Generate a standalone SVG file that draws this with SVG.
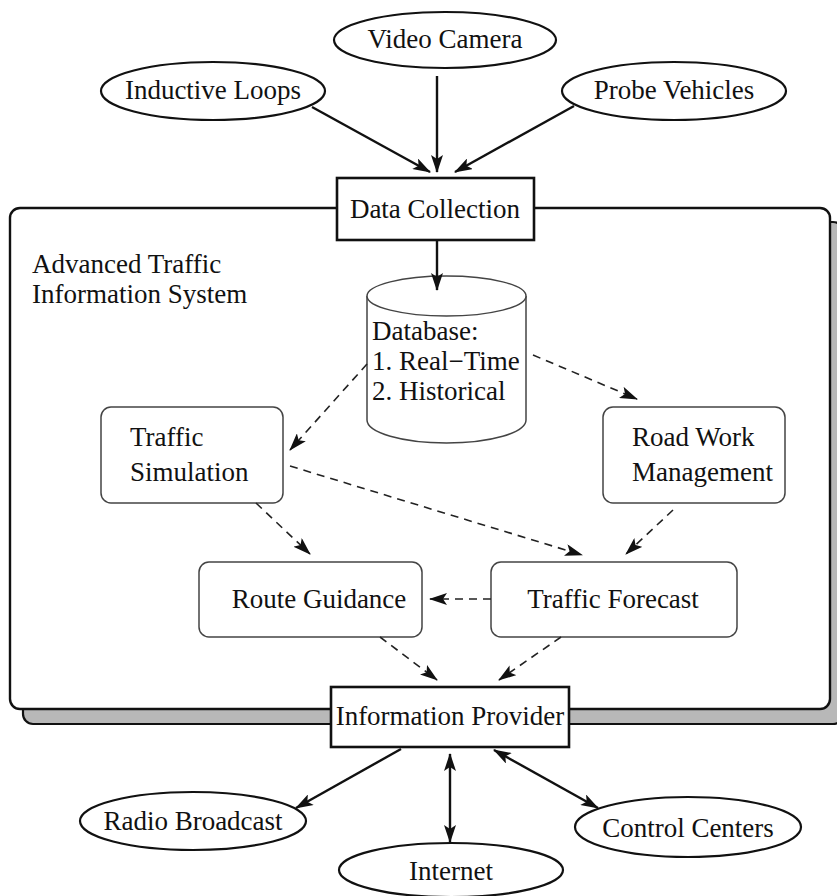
<svg xmlns="http://www.w3.org/2000/svg" width="837" height="896" viewBox="0 0 837 896">
<style>
text{font-family:"Liberation Serif","Times New Roman",serif;font-size:27px;fill:#111}
.ell{fill:#fff;stroke:#111;stroke-width:2.2}
.box{fill:#fff;stroke:#111;stroke-width:2.6}
.rbox{fill:#fff;stroke:#444;stroke-width:1.5}
.solid{stroke:#111;stroke-width:2.4;fill:none}
.dash{stroke:#222;stroke-width:1.6;fill:none;stroke-dasharray:8,6}
</style>
<defs>
<marker id="ah" markerUnits="userSpaceOnUse" markerWidth="18" markerHeight="12" refX="17" refY="6" orient="auto-start-reverse">
<path d="M0,0 L18,6 L0,12 L4,6 z" fill="#111"/>
</marker>
</defs>
<g id="system">
<rect x="23" y="222" width="820" height="502" rx="10" fill="#b8b8b8" stroke="#111" stroke-width="2.2"/>
<rect x="10" y="208" width="820" height="501" rx="10" fill="#fff" stroke="#111" stroke-width="2.4"/>
<text x="32" y="273">Advanced Traffic</text>
<text x="32" y="303">Information System</text>
</g>
<g id="video-camera">
<ellipse class="ell" cx="445" cy="40" rx="111" ry="28"/>
<text x="445" y="48" text-anchor="middle">Video Camera</text>
</g>
<g id="inductive-loops">
<ellipse class="ell" cx="213" cy="91" rx="112" ry="29"/>
<text x="213" y="99" text-anchor="middle">Inductive Loops</text>
</g>
<g id="probe-vehicles">
<ellipse class="ell" cx="674" cy="91" rx="112" ry="29"/>
<text x="674" y="99" text-anchor="middle">Probe Vehicles</text>
</g>
<g id="data-collection">
<rect class="box" x="337" y="178" width="197" height="62"/>
<text x="435" y="218" text-anchor="middle">Data Collection</text>
</g>
<g id="database">
<path d="M367,296 L367,420 A79.5,23 0 0 0 526,420 L526,296" fill="#fff" stroke="#444" stroke-width="1.5"/>
<ellipse cx="446.5" cy="296" rx="79.5" ry="20" fill="#fff" stroke="#444" stroke-width="1.5"/>
<text x="372" y="340">Database:</text>
<text x="372" y="370">1. Real−Time</text>
<text x="372" y="400">2. Historical</text>
</g>
<g id="traffic-simulation">
<rect class="rbox" x="101" y="407" width="182" height="96" rx="10"/>
<text x="130" y="446">Traffic</text>
<text x="130" y="481">Simulation</text>
</g>
<g id="road-work-management">
<rect class="rbox" x="603" y="407" width="182" height="96" rx="10"/>
<text x="632" y="446">Road Work</text>
<text x="632" y="481">Management</text>
</g>
<g id="route-guidance">
<rect class="rbox" x="199" y="562" width="223" height="75" rx="10"/>
<text x="319" y="608" text-anchor="middle">Route Guidance</text>
</g>
<g id="traffic-forecast">
<rect class="rbox" x="491" y="562" width="246" height="75" rx="10"/>
<text x="613" y="608" text-anchor="middle">Traffic Forecast</text>
</g>
<g id="information-provider">
<rect class="box" x="331" y="687" width="238" height="60"/>
<text x="450" y="725" text-anchor="middle">Information Provider</text>
</g>
<g id="radio-broadcast">
<ellipse class="ell" cx="193" cy="821" rx="113" ry="29"/>
<text x="193" y="830" text-anchor="middle">Radio Broadcast</text>
</g>
<g id="internet">
<ellipse class="ell" cx="451" cy="870" rx="112" ry="27"/>
<text x="451" y="880" text-anchor="middle">Internet</text>
</g>
<g id="control-centers">
<ellipse class="ell" cx="688" cy="827" rx="113" ry="30"/>
<text x="688" y="837" text-anchor="middle">Control Centers</text>
</g>
<g id="connectors">
<line class="solid" x1="312" y1="107" x2="430" y2="172" marker-end="url(#ah)"/>
<line class="solid" x1="437" y1="76" x2="437" y2="172" marker-end="url(#ah)"/>
<line class="solid" x1="574" y1="106" x2="455" y2="172" marker-end="url(#ah)"/>
<line class="solid" x1="437" y1="241" x2="437" y2="290" marker-end="url(#ah)"/>
<line class="dash" x1="367" y1="364" x2="290" y2="450" marker-end="url(#ah)"/>
<line class="dash" x1="533" y1="355" x2="637" y2="399" marker-end="url(#ah)"/>
<line class="dash" x1="290" y1="466" x2="582" y2="555" marker-end="url(#ah)"/>
<line class="dash" x1="256" y1="503" x2="310" y2="554" marker-end="url(#ah)"/>
<line class="dash" x1="673" y1="510" x2="626" y2="554" marker-end="url(#ah)"/>
<line class="dash" x1="491" y1="599" x2="430" y2="599" marker-end="url(#ah)"/>
<line class="dash" x1="380" y1="637" x2="437" y2="680" marker-end="url(#ah)"/>
<line class="dash" x1="561" y1="637" x2="499" y2="680" marker-end="url(#ah)"/>
<line class="solid" x1="401" y1="749" x2="296" y2="808" marker-end="url(#ah)"/>
<line class="solid" x1="450" y1="754" x2="450" y2="842" marker-start="url(#ah)" marker-end="url(#ah)"/>
<line class="solid" x1="494" y1="750" x2="598" y2="808" marker-start="url(#ah)" marker-end="url(#ah)"/>
</g>
</svg>
